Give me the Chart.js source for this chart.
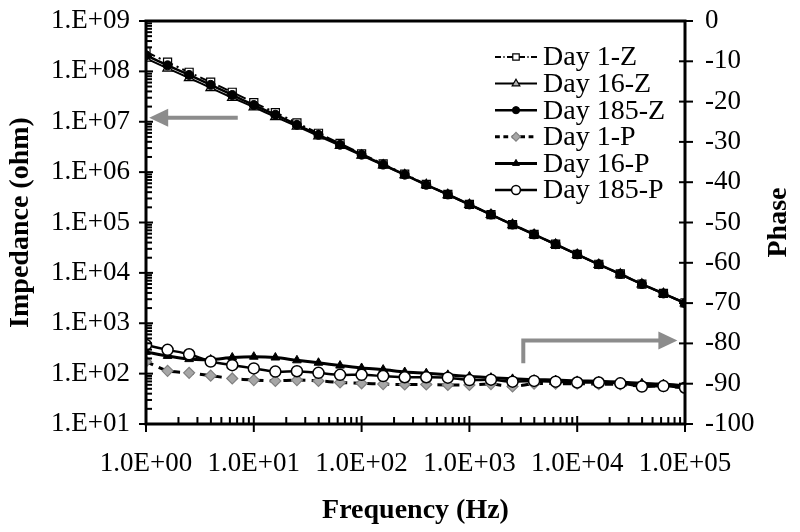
<!DOCTYPE html>
<html><head><meta charset="utf-8">
<script src="https://cdn.jsdelivr.net/npm/chart.js@4.4.1/dist/chart.umd.min.js"></script>
<style>html,body{margin:0;padding:0;background:#fff;}canvas{display:block;}</style>
</head><body>
<canvas id="c" width="800" height="532"></canvas>
<script>
// ---- data ----
const frequencies = [1, 1.585, 2.512, 3.981, 6.31, 10, 15.85, 25.12, 39.81, 63.1, 100, 158.5, 251.2, 398.1, 631, 1000, 1585, 2512, 3981, 6310, 10000, 15850, 25120, 39810, 63100, 100000];
const day1Z   = [2.45e8, 1.52e8, 9.6e7, 6.1e7, 3.85e7, 2.4e7, 1.52e7, 9.5e6, 5.9e6, 3.7e6, 2.3e6, 1.45e6, 9.1e5, 5.7e5, 3.6e5, 2.28e5, 1.44e5, 9.1e4, 5.8e4, 3.7e4, 2.33e4, 1.48e4, 9.5e3, 6.0e3, 3.9e3, 2.55e3];
const day16Z  = [1.8e8, 1.15e8, 7.4e7, 4.7e7, 3.0e7, 1.95e7, 1.25e7, 8.1e6, 5.2e6, 3.35e6, 2.15e6, 1.38e6, 8.8e5, 5.6e5, 3.55e5, 2.25e5, 1.43e5, 9.0e4, 5.75e4, 3.65e4, 2.3e4, 1.46e4, 9.4e3, 5.95e3, 3.85e3, 2.5e3];
const day185Z = [2.09e8, 1.32e8, 8.5e7, 5.4e7, 3.4e7, 2.15e7, 1.38e7, 8.7e6, 5.5e6, 3.5e6, 2.22e6, 1.41e6, 8.9e5, 5.6e5, 3.6e5, 2.28e5, 1.44e5, 9.1e4, 5.8e4, 3.7e4, 2.33e4, 1.48e4, 9.5e3, 6.0e3, 3.9e3, 2.5e3];
const day1P   = [-84.5, -86.8, -87.3, -88.0, -88.7, -89.1, -89.3, -89.1, -89.3, -89.7, -89.9, -90.1, -90.2, -90.2, -90.3, -90.3, -90.1, -90.7, -90.0, -90.0, -90.0, -90.1, -90.2, -90.6, -90.6, -91.0];
const day16P  = [-82.1, -83.1, -83.9, -84.0, -83.5, -83.3, -83.5, -84.2, -84.8, -85.5, -86.1, -86.5, -87.1, -87.4, -87.8, -88.2, -88.5, -88.8, -89.0, -89.1, -89.3, -89.4, -89.6, -89.9, -90.1, -90.5];
const day185P = [-80.4, -81.6, -82.7, -84.5, -85.4, -86.2, -87.0, -86.9, -87.3, -87.8, -87.8, -88.1, -88.4, -88.4, -88.5, -89.1, -89.0, -89.5, -89.3, -89.5, -89.7, -89.7, -89.9, -90.7, -90.6, -91.0];
const seriesNames = ['Day 1-Z', 'Day 16-Z', 'Day 185-Z', 'Day 1-P', 'Day 16-P', 'Day 185-P'];
const xTickValues = [1, 10, 100, 1000, 10000, 100000];
const yTickValues = [10, 100, 1e3, 1e4, 1e5, 1e6, 1e7, 1e8, 1e9];
const phaseMin = -100, phaseMax = 0, phaseStep = 10;
const phaseTitle = 'Phase';
// arrow anchors in data units: [x, y]
const leftArrow = {from: [7.1, 1.2e7], to: [1.07, 1.2e7]};
const rightArrow = {start: [3162, -84.9], corner: [3162, -79.3], tip: [85000, -79.3]};

const FONT = "'Liberation Serif','Times New Roman',serif";
const pts = arr => frequencies.map((f, i) => ({x: f, y: arr[i]}));
const exp2 = v => { const e = Math.round(Math.log10(v)); return (e < 0 ? '-' : '+') + String(Math.abs(e)).padStart(2, '0'); };

const datasets = [
  {label: seriesNames[0], data: pts(day1Z), yAxisID: 'y', borderColor: '#000', borderWidth: 2, borderDash: [10, 4, 2, 4],
   pointStyle: 'rect', pointRadius: 5.7, pointBackgroundColor: '#fff', pointBorderColor: '#000', pointBorderWidth: 1.2, order: 6},
  {label: seriesNames[1], data: pts(day16Z), yAxisID: 'y', borderColor: '#000', borderWidth: 2,
   pointStyle: 'triangle', pointRadius: 5.5, pointBackgroundColor: '#b0b0b0', pointBorderColor: '#000', pointBorderWidth: 1.2, order: 5},
  {label: seriesNames[2], data: pts(day185Z), yAxisID: 'y', borderColor: '#000', borderWidth: 2.5,
   pointStyle: 'circle', pointRadius: 4.5, pointBackgroundColor: '#000', pointBorderColor: '#000', pointBorderWidth: 1, order: 4},
  {label: seriesNames[3], data: pts(day1P), yAxisID: 'y2', borderColor: '#000', borderWidth: 3, borderDash: [8, 6],
   pointStyle: 'rectRot', pointRadius: 5.5, pointBackgroundColor: '#a6a6a6', pointBorderColor: '#808080', pointBorderWidth: 1.2, order: 3},
  {label: seriesNames[4], data: pts(day16P), yAxisID: 'y2', borderColor: '#000', borderWidth: 3,
   pointStyle: 'triangle', pointRadius: 5, pointBackgroundColor: '#000', pointBorderColor: '#000', pointBorderWidth: 1, order: 2},
  {label: seriesNames[5], data: pts(day185P), yAxisID: 'y2', borderColor: '#000', borderWidth: 2.5,
   pointStyle: 'circle', pointRadius: 5.5, pointBackgroundColor: '#fff', pointBorderColor: '#000', pointBorderWidth: 1.5, order: 1}
];
datasets.forEach(d => { d.tension = 0.3; d.fill = false; d.backgroundColor = d.pointBackgroundColor; });

const framePlugin = {
  id: 'frame',
  afterDraw(chart) {
    const {ctx, chartArea: a, scales: {x, y, y2}} = chart;
    ctx.save();
    ctx.strokeStyle = '#000';
    ctx.lineWidth = 3;
    ctx.strokeRect(a.left, a.top, a.right - a.left, a.bottom - a.top);
    ctx.lineWidth = 2;
    const line = (x1, y1, x2, y2_) => { ctx.beginPath(); ctx.moveTo(x1, y1); ctx.lineTo(x2, y2_); ctx.stroke(); };
    xTickValues.forEach((v, i) => {
      const px = x.getPixelForValue(v);
      line(px, a.bottom - 8, px, a.bottom + 8);
      if (i < xTickValues.length - 1) for (let m = 2; m <= 9; m++) {
        const p = x.getPixelForValue(v * m);
        line(p, a.bottom, p, a.bottom - 7);
      }
    });
    yTickValues.forEach((v, i) => {
      const py = y.getPixelForValue(v);
      line(a.left - 7, py, a.left + 7, py);
      if (i < yTickValues.length - 1) for (let m = 2; m <= 9; m++) {
        const p = y.getPixelForValue(v * m);
        line(a.left, p, a.left + 6, p);
      }
    });
    for (let v = phaseMin; v <= phaseMax; v += phaseStep) {
      const py = y2.getPixelForValue(v);
      line(a.right - 6, py, a.right + 8, py);
    }
    ctx.fillStyle = '#000';
    ctx.font = `bold 28px ${FONT}`;
    ctx.textAlign = 'center';
    ctx.textBaseline = 'middle';
    ctx.translate(y2.right - 21, (a.top + a.bottom) / 2);
    ctx.rotate(-Math.PI / 2);
    ctx.fillText(phaseTitle, 0, 0);
    ctx.restore();
  }
};

const arrowPlugin = {
  id: 'arrows',
  afterDatasetsDraw(chart) {
    const {ctx, scales: {x, y, y2}} = chart;
    ctx.save();
    ctx.strokeStyle = '#8c8c8c';
    ctx.fillStyle = '#8c8c8c';
    ctx.lineWidth = 4;
    const head = (tx, ty, dir) => {
      ctx.beginPath();
      ctx.moveTo(tx, ty);
      ctx.lineTo(tx - dir * 19, ty - 9);
      ctx.lineTo(tx - dir * 19, ty + 9);
      ctx.closePath();
      ctx.fill();
    };
    const lx1 = x.getPixelForValue(leftArrow.from[0]), ly = y.getPixelForValue(leftArrow.from[1]);
    const lx2 = x.getPixelForValue(leftArrow.to[0]);
    ctx.beginPath(); ctx.moveTo(lx1, ly); ctx.lineTo(lx2 + 16, ly); ctx.stroke();
    head(lx2, ly, -1);
    const rx = x.getPixelForValue(rightArrow.start[0]);
    const ry1 = y2.getPixelForValue(rightArrow.start[1]);
    const ry2 = y2.getPixelForValue(rightArrow.corner[1]);
    const rtx = x.getPixelForValue(rightArrow.tip[0]);
    ctx.lineJoin = 'miter';
    ctx.beginPath(); ctx.moveTo(rx, ry1); ctx.lineTo(rx, ry2); ctx.lineTo(rtx - 16, ry2); ctx.stroke();
    head(rtx, ry2, 1);
    ctx.restore();
  }
};

const legendPlugin = {
  id: 'customLegend',
  afterDraw(chart) {
    const {ctx, chartArea: a} = chart;
    ctx.save();
    ctx.font = `28px ${FONT}`;
    ctx.textBaseline = 'middle';
    ctx.textAlign = 'left';
    chart.data.datasets.forEach((d, i) => {
      const yy = a.top + 36 + i * 26.6;
      const x0 = a.right - 190, x1 = a.right - 148, xm = a.right - 169;
      ctx.strokeStyle = d.borderColor;
      ctx.lineWidth = d.borderWidth;
      ctx.setLineDash(d.borderDash ? d.borderDash.map(v => v * 0.6) : []);
      ctx.beginPath(); ctx.moveTo(x0, yy); ctx.lineTo(x1, yy); ctx.stroke();
      ctx.setLineDash([]);
      ctx.fillStyle = d.pointBackgroundColor;
      ctx.strokeStyle = d.pointBorderColor;
      ctx.lineWidth = d.pointBorderWidth;
      Chart.helpers.drawPoint(ctx, {pointStyle: d.pointStyle, radius: d.pointRadius * 0.8, rotation: 0, borderWidth: d.pointBorderWidth}, xm, yy);
      ctx.fillStyle = '#000';
      ctx.fillText(d.label, a.right - 142, yy + 1);
    });
    ctx.restore();
  }
};

const noPad = s => { s.paddingTop = 0; s.paddingBottom = 0; s.paddingLeft = 0; s.paddingRight = 0; };

new Chart(document.getElementById('c'), {
  type: 'line',
  data: {datasets},
  options: {
    responsive: false,
    animation: false,
    devicePixelRatio: 1,
    events: [],
    layout: {padding: {top: 21, left: 0, right: 0, bottom: 0}},
    plugins: {legend: {display: false}, tooltip: {enabled: false}},
    scales: {
      x: {
        type: 'logarithmic', position: 'bottom', min: xTickValues[0], max: xTickValues[xTickValues.length - 1],
        grid: {display: false, drawTicks: false}, border: {display: false},
        afterBuildTicks: s => { s.ticks = xTickValues.map(v => ({value: v})); },
        afterFit: s => { s.height = 108; noPad(s); },
        ticks: {color: '#000', font: {family: FONT, size: 27}, padding: 24, autoSkip: false, maxRotation: 0,
          callback: v => '1.0E' + exp2(v)},
        title: {display: true, text: 'Frequency (Hz)', color: '#000', font: {family: FONT, size: 28, weight: 'bold'}, padding: {top: 0, bottom: 4}}
      },
      y: {
        type: 'logarithmic', position: 'left', min: yTickValues[0], max: yTickValues[yTickValues.length - 1],
        grid: {display: false, drawTicks: false}, border: {display: false},
        afterBuildTicks: s => { s.ticks = yTickValues.map(v => ({value: v})); },
        afterFit: s => { s.width = 146; noPad(s); },
        ticks: {color: '#000', font: {family: FONT, size: 27}, padding: 16, autoSkip: false,
          callback: v => '1.E' + exp2(v)},
        title: {display: true, text: 'Impedance (ohm)', color: '#000', font: {family: FONT, size: 28, weight: 'bold'}, padding: {top: 4, bottom: 0}}
      },
      y2: {
        type: 'linear', position: 'right', min: phaseMin, max: phaseMax,
        grid: {display: false, drawTicks: false}, border: {display: false},
        afterFit: s => { s.width = 115; noPad(s); },
        ticks: {color: '#000', font: {family: FONT, size: 27}, padding: 20, stepSize: phaseStep, autoSkip: false},
        title: {display: false}
      }
    }
  },
  plugins: [arrowPlugin, framePlugin, legendPlugin]
});
</script>
</body></html>
